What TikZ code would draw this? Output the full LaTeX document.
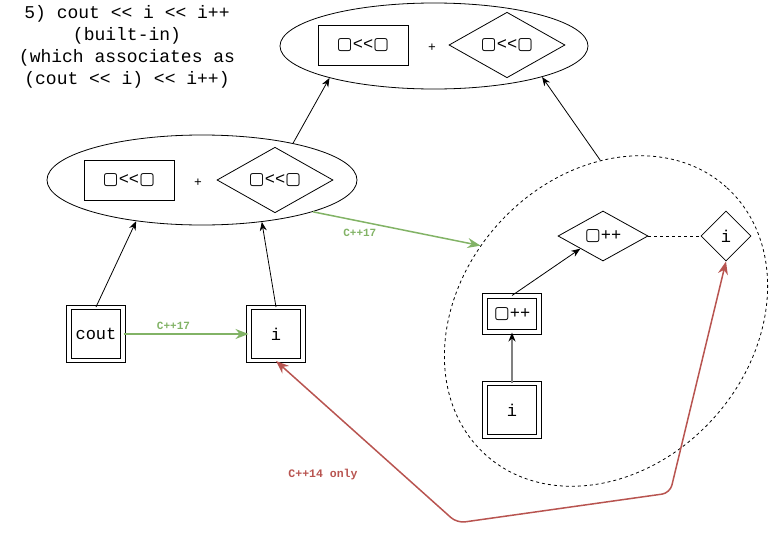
\documentclass[tikz,border=0pt]{standalone}
\usepackage{fontspec}
\setmonofont{Liberation Mono}
\newfontfamily\symf{DejaVu Sans}
\usepackage{xcolor}
\usetikzlibrary{shapes.geometric,arrows.meta}
\definecolor{cppgreen}{HTML}{82B366}
\definecolor{cppred}{HTML}{B85450}
\newcommand{\hole}{{\symf ▢}}

\begin{document}
\begin{tikzpicture}[x=1pt,y=-1pt,font=\ttfamily\fontsize{17}{20}\selectfont,line width=0.8pt,
  opbox/.style={draw,minimum width=90pt,minimum height=40pt},
  opdia/.style={draw,diamond,inner sep=0pt,minimum width=116pt,minimum height=59pt},
  dbl/.style={draw,double,double distance=3.3pt,line width=1pt,minimum width=54pt,minimum height=53pt},
  arr/.style={-{Stealth[length=9pt,width=7pt,color=black]}},
  garr/.style={cppgreen,line width=1.5pt,-{Stealth[length=13pt,width=10pt]}},
  rarr/.style={cppred,line width=1.5pt,{Stealth[length=13pt,width=10pt]}-{Stealth[length=13pt,width=10pt]}},
  glab/.style={text=cppgreen,font=\ttfamily\bfseries\fontsize{11}{13}\selectfont},
  rlab/.style={text=cppred,font=\ttfamily\bfseries\fontsize{11.5}{13}\selectfont}]
\useasboundingbox (0,0) rectangle (769,536);
\node[align=center,font=\ttfamily\fontsize{18}{22}\selectfont] (title) at (127,47) {5) cout << i << i++\\(built-in)\\(which associates as\\(cout << i) << i++)};
\node[draw,ellipse,minimum width=308pt,minimum height=86pt] (top) at (434,46) {};
\node[opbox] (topbox) at (363,45) {\hole<<\hole};
\node[font=\ttfamily\fontsize{13}{15}\selectfont] (topplus) at (432,48) {+};
\node[opdia] (topdia) at (507,45) {\hole<<\hole};
\node[draw,ellipse,minimum width=310pt,minimum height=90pt] (mid) at (202,180) {};
\node[opbox] (midbox) at (129,180) {\hole<<\hole};
\node[font=\ttfamily\fontsize{13}{15}\selectfont] (midplus) at (198,183) {+};
\node[opdia] (middia) at (275,180) {\hole<<\hole};
\node[draw,ellipse,dashed,dash pattern=on 3pt off 3pt,minimum width=360pt,minimum height=290pt,rotate=48] (grp) at (606,321) {};
\node[dbl] (cout) at (96,334) {cout};
\node[dbl] (ivar) at (276,334) {i};
\node[dbl,minimum height=36pt] (inc) at (512,314) {\hole++};
\node[dbl] (ival) at (512,410) {i};
\node[draw,diamond,inner sep=0pt,minimum width=90pt,minimum height=50pt] (incdia) at (603,236) {\hole++};
\node[draw,diamond,inner sep=0pt,minimum width=50pt,minimum height=50pt] (idia) at (726,236) {i};
\coordinate (c1) at (457,523);
\coordinate (c2) at (670,493);
\draw[arr] (cout.north) -- (mid.212);
\draw[arr] (ivar.north) -- (mid.325);
\draw[arr] (mid.22) -- (top.197);
\draw[arr] (grp.44) -- (top.344);
\draw[garr] (cout) -- node[pos=0.4,above,glab] {C++17} (ivar);
\draw[garr] (mid.344) -- node[pos=0.28,below=4pt,glab] {C++17} (grp.101);
\draw[arr,gray,line width=1.5pt] (ival) -- (inc);
\draw[arr] (inc.north) -- (incdia.south west);
\draw[dashed] (incdia) -- (idia);
\draw[rarr,rounded corners=8pt] (ivar.south) -- (c1) -- (c2) -- (idia.south);
\node[rlab] (only) at (323,475) {C++14 only};
\end{tikzpicture}
\end{document}
